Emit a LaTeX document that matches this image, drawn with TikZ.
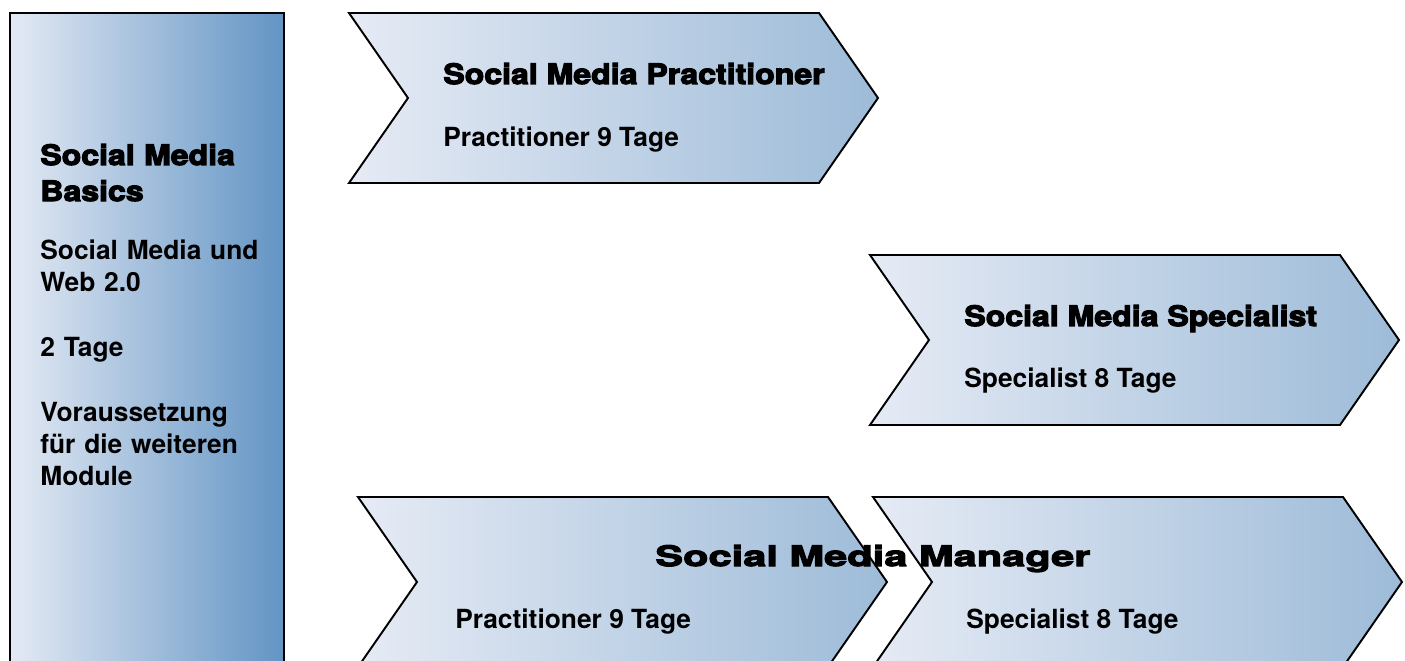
\documentclass[tikz,border=0pt]{standalone}
\usepackage{fontspec}
\setmainfont{TeX Gyre Heros}
\newfontfamily\heavyfont[FakeBold=4,FakeStretch=1.14]{texgyreheros-bold.otf}
\newfontfamily\widefont[FakeBold=4,FakeStretch=1.48]{texgyreheros-bold.otf}

\definecolor{boxleft}{RGB}{228,234,244}
\definecolor{boxright}{RGB}{98,148,196}
\definecolor{chevleft}{RGB}{230,235,245}
\definecolor{chevright}{RGB}{157,187,216}

\begin{document}
\begin{tikzpicture}[
  x=0.02cm, y=-0.02cm,
  basicbox/.style={draw=black, line width=1.5pt,
                   left color=boxleft, right color=boxright},
  arrowbox/.style={draw=black, line width=1.1pt, line join=miter,
                   left color=chevleft, right color=chevright},
  modtitle/.style={anchor=base west, inner sep=0pt,
                   font=\heavyfont\fontsize{16}{20.5}\selectfont},
  moddays/.style={anchor=base west, inner sep=0pt,
                  font=\bfseries\fontsize{15}{18}\selectfont},
  stacked/.style={text width=5cm, align=left},
  chevron/.pic={
    \path[arrowbox] (0,0) -- (470,0) -- (529,85) -- (470,170)
      -- (0,170) -- (59,85) -- cycle;
  },
]
  \useasboundingbox (0,0) rectangle (1405,661);
  \clip (0,0) rectangle (1405,661);

  % basics column
  \path[basicbox] (10,13) rectangle (284,700);
  \node[modtitle, stacked] (bhead) at (40,165) {Social Media\\Basics};
  \node[moddays, stacked] (btopic) at (40,260) {Social Media und\\Web 2.0};
  \node[moddays, stacked] (bdays) at (40,357) {2 Tage};
  \node[moddays, stacked] (bnote) at (40,422) {Voraussetzung\\f\"ur die weiteren\\Module};

  % practitioner and specialist
  \pic (prac) at (349,13) {chevron};
  \pic (spec) at (870,255) {chevron};
  \node[modtitle] (phead) at (443,84) {Social Media Practitioner};
  \node[moddays] (pdays) at (443,147) {Practitioner 9 Tage};
  \node[modtitle] (shead) at (964,326) {Social Media Specialist};
  \node[moddays] (sdays) at (964,388) {Specialist 8 Tage};

  % manager = practitioner + specialist
  \pic (mprac) at (358,497) {chevron};
  \pic (mspec) at (873,497) {chevron};
  \node[modtitle, font=\widefont\fontsize{16}{18}\selectfont] (mhead) at (655,566) {Social Media Manager};
  \node[moddays] (mpdays) at (455,628) {Practitioner 9 Tage};
  \node[moddays] (msdays) at (966,628) {Specialist 8 Tage};
\end{tikzpicture}
\end{document}
